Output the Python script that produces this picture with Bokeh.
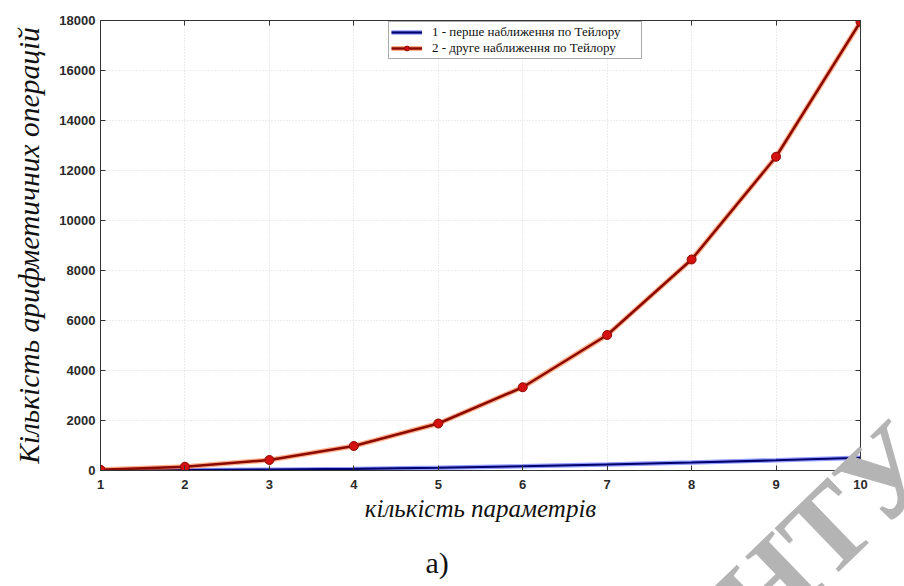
from bokeh.plotting import figure
from bokeh.models import (Range1d, FixedTicker, LinearAxis, Legend, LegendItem, Title, Div)
from bokeh.embed import file_html
from bokeh.resources import INLINE

# ---- data ----
params = [1, 2, 3, 4, 5, 6, 7, 8, 9, 10]
taylor1 = [5, 15, 35, 65, 110, 170, 240, 320, 410, 510]
taylor2 = [30, 150, 420, 980, 1880, 3330, 5420, 8440, 12550, 17950]
x_ticks = [1, 2, 3, 4, 5, 6, 7, 8, 9, 10]
y_ticks = [0, 2000, 4000, 6000, 8000, 10000, 12000, 14000, 16000, 18000]
label1 = "1 - перше наближення по Тейлору"
label2 = "2 - друге наближення по Тейлору"
x_title = "кількість параметрів"
y_title = "Кількість арифметичних операцій"
caption = "а)"
watermark = "НТУ"

p = figure(frame_width=760, frame_height=450, width=904, height=586,
           min_border_left=100, min_border_right=44, min_border_top=20, min_border_bottom=116,
           x_range=Range1d(1, 10), y_range=Range1d(0, 18000),
           output_backend="svg", toolbar_location=None, background_fill_color="white",
           border_fill_color="white")

p.outline_line_color = "#333333"
p.outline_line_width = 1

for ax in (p.xaxis[0], p.yaxis[0]):
    ax.major_tick_in = 5
    ax.major_tick_out = 0
    ax.minor_tick_line_color = None
    ax.axis_line_color = "#333333"
    ax.major_tick_line_color = "#333333"
    ax.major_label_text_font = "Liberation Sans"
    ax.major_label_text_font_style = "bold"
    ax.major_label_text_font_size = "13px"
    ax.major_label_text_color = "#2a2a2a"
    ax.axis_label_text_font = "Liberation Serif"
    ax.axis_label_text_font_style = "italic"
    ax.axis_label_text_color = "#111111"
p.xaxis[0].ticker = FixedTicker(ticks=x_ticks)
p.yaxis[0].ticker = FixedTicker(ticks=y_ticks)
p.xaxis[0].major_label_standoff = 9
p.yaxis[0].major_label_standoff = 5
p.xaxis[0].axis_label = x_title
p.xaxis[0].axis_label_text_font_size = "25px"
p.xaxis[0].axis_label_standoff = 3
p.yaxis[0].axis_label = y_title
p.yaxis[0].axis_label_text_font_size = "29.5px"
p.yaxis[0].axis_label_standoff = 11

# mirrored axes (MATLAB box)
top = LinearAxis(ticker=FixedTicker(ticks=x_ticks), major_tick_in=5, major_tick_out=0,
                 minor_tick_line_color=None, major_label_text_color=None,
                 major_label_text_font_size="1px", axis_line_color="#333333",
                 major_tick_line_color="#333333", major_label_standoff=0)
right = LinearAxis(ticker=FixedTicker(ticks=y_ticks), major_tick_in=5, major_tick_out=0,
                   minor_tick_line_color=None, major_label_text_color=None,
                   major_label_text_font_size="1px", axis_line_color="#333333",
                   major_tick_line_color="#333333", major_label_standoff=0)
p.add_layout(top, "above")
p.add_layout(right, "right")

p.xgrid.ticker = FixedTicker(ticks=x_ticks)
p.ygrid.ticker = FixedTicker(ticks=y_ticks)
p.grid.grid_line_color = "#d8d8d8"
p.grid.grid_line_dash = "1 2"
p.grid.grid_line_width = 1

# series 1 (blue)
b_halo = p.line(params, taylor1, line_color="#4a5cff", line_width=4.5, line_alpha=0.6)
b_core = p.line(params, taylor1, line_color="#00006e", line_width=2.2)
# series 2 (red)
r_halo = p.line(params, taylor2, line_color="#ff6a2a", line_width=5, line_alpha=0.55)
r_core = p.line(params, taylor2, line_color="#8b0a00", line_width=2.5)
r_pts = p.scatter(params, taylor2, marker="circle", size=9, fill_color="#d41010",
                  line_color="#8b0a00", line_width=1)

legend = Legend(items=[LegendItem(label=label1, renderers=[b_halo, b_core]),
                       LegendItem(label=label2, renderers=[r_halo, r_core, r_pts])],
                location=(288, 411), orientation="vertical",
                label_text_font="Liberation Serif", label_text_font_size="13px",
                label_text_color="#111111", label_standoff=10, label_width=207,
                label_height=12, glyph_height=12, glyph_width=31, spacing=0,
                padding=2, margin=0, border_line_color="#555555", border_line_width=1,
                background_fill_color="white", background_fill_alpha=1)
p.add_layout(legend)

# caption under the plot
cap = Title(text=caption, text_font="Liberation Serif", text_font_size="30px",
            text_font_style="normal", text_color="#111111", align="left", offset=325,
            standoff=38)
p.add_layout(cap, "below")

# grey watermark stamp overlaid at the bottom-right
wm = Div(text=watermark,
         styles={"position": "absolute", "left": "685px", "top": "466px",
                 "width": "280px", "height": "130px", "line-height": "130px",
                 "text-align": "center", "font-family": "Liberation Serif",
                 "font-size": "116px", "font-weight": "bold", "color": "#b4b4b4",
                 "pointer-events": "none",
                 "transform": "rotate(-44deg)", "transform-origin": "50% 50%",
                 "white-space": "nowrap", "overflow": "visible"})
p.elements = [wm]

open("out.html", "w").write(file_html(p, INLINE))
